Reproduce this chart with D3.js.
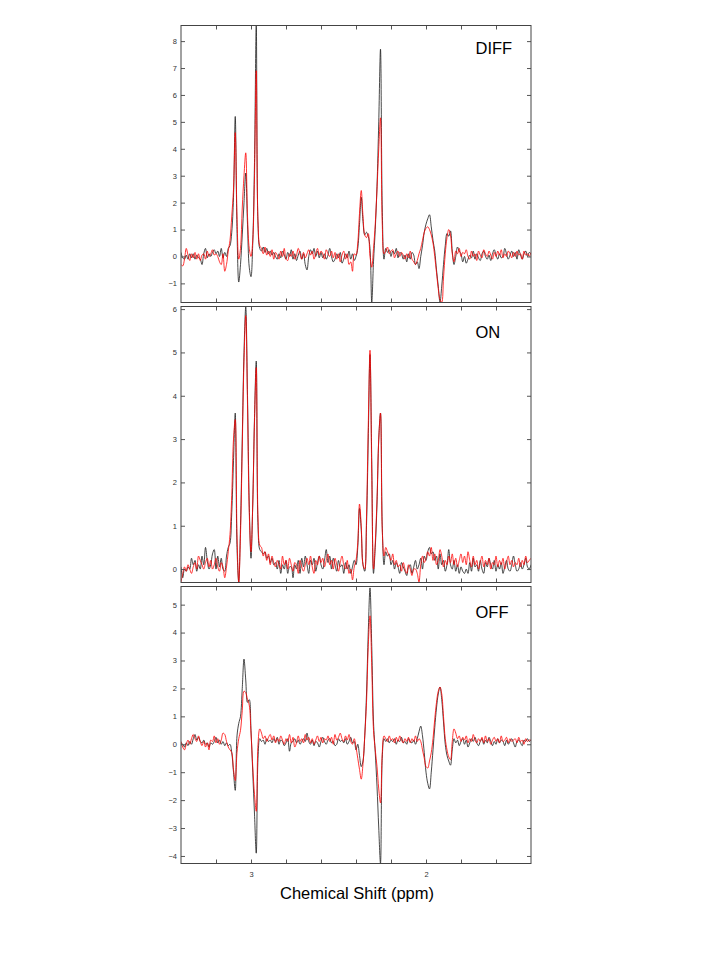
<!DOCTYPE html>
<html><head><meta charset="utf-8">
<script src="https://cdn.jsdelivr.net/npm/d3@7"></script>
<style>body{margin:0;background:#fff}svg{display:block}</style>
</head><body>
<svg id="chart" width="720" height="960"></svg>
<script>
// sampling grid: 3.40 ppm down to 1.40 ppm, 0.01 ppm step
const ppmGrid = d3.range(201).map(i => +(3.4 - 0.01 * i).toFixed(2));
const xTickValues = [3.2, 3.0, 2.8, 2.6, 2.4, 2.2, 2.0, 1.8, 1.6];
const xTickLabels = {"3": "3", "2": "2"};
const panelNames = ["DIFF", "ON", "OFF"];

const diffBlack = [
0.15,-0.05,-0.1,0.05,-0.1,0.1,-0.05,0.1,-0.1,0.05,
-0.05,-0.1,-0.3,0.1,0.3,-0.05,0.1,0.0,0.15,0.25,
0.1,0.2,0.0,0.3,-0.05,0.15,0.0,0.3,0.4,0.9,
2.2,5.2,1.0,-0.95,-0.3,0.8,2.0,3.1,1.2,-0.4,
-0.75,0.5,3.5,8.57,1.2,0.3,0.2,0.35,0.15,0.3,
0.1,0.2,0.05,0.15,0.0,-0.1,0.1,-0.05,0.2,0.05,
-0.1,0.15,0.0,0.25,-0.1,0.1,-0.15,0.05,0.2,-0.1,
0.1,-0.3,-0.5,0.0,0.25,0.1,0.3,0.0,0.2,-0.05,
0.15,-0.05,0.1,-0.1,0.05,0.3,0.0,-0.2,-0.1,0.1,
-0.05,0.15,-0.25,-0.1,0.1,-0.05,0.2,-0.1,0.1,-0.15,
0.0,0.3,1.2,2.2,1.3,0.8,0.9,0.75,0.3,-1.7,
-0.2,1.0,2.6,5.0,7.7,1.8,-0.1,0.3,0.15,0.25,
0.0,0.2,0.1,0.3,-0.05,0.15,0.1,-0.1,0.05,-0.2,
0.1,-0.1,0.15,0.05,-0.3,-0.2,-0.45,0.0,0.4,0.9,
1.2,1.4,1.55,1.1,0.6,0.2,-0.5,-1.1,-1.7,-1.1,
-0.3,0.4,0.85,0.75,0.95,0.2,-0.3,0.0,0.35,0.2,
0.1,-0.2,0.0,-0.25,-0.1,0.05,-0.05,0.2,-0.1,0.1,
-0.05,-0.15,0.1,0.2,0.0,-0.1,0.05,-0.15,0.1,0.25,
0.05,-0.1,0.1,-0.05,0.0,0.3,0.1,-0.1,0.05,0.2,
0.0,0.15,-0.1,0.25,0.05,-0.1,0.1,0.2,0.0,0.15,0.1];

const diffRed = [
-0.3,-0.35,-0.1,0.3,0.05,-0.15,0.1,-0.05,0.15,-0.1,
0.1,-0.15,0.05,0.1,-0.1,0.2,0.0,0.1,0.25,0.05,
0.1,0.0,-0.2,-0.3,0.1,-0.55,-0.3,0.2,0.6,1.5,
2.5,4.6,1.5,-0.1,0.3,1.8,3.0,3.85,1.5,0.3,
0.0,0.6,3.0,6.9,1.3,0.4,0.3,0.1,0.35,0.05,
0.2,0.0,0.25,-0.1,0.15,0.05,-0.1,0.2,0.0,0.3,
-0.1,-0.15,0.1,0.0,0.2,-0.1,0.05,0.3,0.1,-0.1,
0.15,-0.05,0.1,0.25,0.05,0.2,-0.1,0.1,0.3,0.05,
0.2,0.1,-0.1,0.25,0.1,0.0,0.2,-0.05,0.15,-0.1,
0.1,-0.2,0.05,0.2,-0.1,0.1,-0.3,-0.2,-0.55,0.1,
0.05,0.5,1.6,2.45,1.5,0.8,0.7,0.85,0.0,-0.4,
0.3,1.2,2.5,4.0,5.15,1.2,0.1,0.2,0.35,0.1,
0.2,0.25,-0.05,0.1,0.2,0.0,0.15,0.05,-0.1,0.1,
-0.05,0.2,-0.1,-0.2,-0.3,-0.15,0.1,0.3,0.6,0.9,
1.05,1.1,1.0,0.8,0.5,0.0,-0.6,-1.2,-1.6,-1.7,
-0.8,0.1,0.7,1.0,0.8,0.1,-0.2,0.2,0.1,0.3,
0.0,0.15,0.1,0.25,0.0,-0.1,0.2,0.0,0.1,-0.15,
0.2,0.05,-0.05,0.25,0.1,0.0,0.2,0.05,-0.1,0.15,
0.0,0.2,0.05,0.25,-0.05,0.1,0.0,0.2,0.1,-0.05,
0.15,0.0,0.2,0.05,0.1,-0.1,0.2,0.05,0.1,0.0,0.15];

const onBlack = [
0.05,-0.2,0.0,-0.05,0.05,0.0,0.25,0.1,0.2,-0.05,
0.1,0.0,0.3,0.1,0.5,0.2,0.0,0.1,0.35,0.45,
0.0,0.3,0.05,0.25,0.0,-0.05,0.3,0.5,0.6,1.3,
2.5,3.6,0.5,-0.3,1.0,3.0,5.0,6.05,4.0,1.5,
0.25,1.5,3.5,4.8,1.0,0.45,0.4,0.35,0.4,0.25,
0.3,0.15,0.25,0.1,0.15,0.0,0.2,-0.1,0.1,0.0,
0.2,-0.1,0.05,0.05,-0.2,0.1,0.0,0.2,-0.1,0.25,
0.05,0.3,0.1,-0.1,0.2,0.1,0.25,-0.05,0.15,0.3,
0.1,0.0,0.2,0.45,0.15,0.3,0.0,0.25,0.1,-0.05,
0.2,0.05,0.1,-0.1,0.15,0.0,0.1,-0.1,0.05,0.2,
0.1,0.5,1.4,0.9,0.1,-0.05,1.0,3.0,4.95,2.5,
-0.1,0.5,1.5,3.0,3.6,1.0,0.1,0.4,0.3,0.35,
0.1,0.2,0.0,0.15,0.05,-0.1,0.15,0.05,-0.05,-0.15,
0.05,0.1,-0.1,0.05,0.2,0.0,0.1,0.25,0.0,0.3,
0.2,0.4,0.5,0.35,0.4,0.2,0.3,0.0,0.35,0.1,
0.2,-0.05,0.1,0.45,0.1,0.0,0.2,-0.05,0.1,-0.1,
0.05,-0.05,-0.1,0.0,-0.1,0.15,-0.05,0.25,0.05,0.1,
-0.05,0.2,0.0,-0.1,0.15,0.05,0.25,0.1,0.0,0.2,
-0.05,0.1,0.0,0.15,-0.1,0.05,0.2,0.0,-0.05,0.1,
0.3,0.1,-0.05,0.0,0.15,0.0,0.1,0.25,0.05,0.0,0.1];

const onRed = [
-0.3,-0.1,0.05,-0.05,0.1,0.0,-0.1,0.05,0.15,0.0,
0.3,0.2,0.1,0.0,0.15,0.25,0.05,0.2,0.0,0.1,
0.25,0.05,-0.05,0.15,0.05,-0.2,0.05,0.4,0.8,1.7,
3.0,3.45,0.8,-0.3,0.8,2.8,4.8,5.85,3.8,1.3,
0.4,1.5,3.4,4.65,1.2,0.55,0.5,0.3,0.4,0.2,
0.35,0.1,0.3,0.15,0.05,0.2,0.1,0.0,0.3,0.1,
0.2,0.0,0.25,0.1,-0.05,0.15,0.1,-0.1,0.2,0.05,
-0.05,0.1,0.25,0.1,0.3,0.05,-0.1,0.2,0.1,0.3,
0.15,0.25,0.05,0.2,0.35,0.1,0.2,0.0,0.25,0.1,
-0.05,0.15,0.3,0.1,0.0,0.2,-0.1,0.0,-0.25,0.05,
0.2,0.6,1.5,1.0,0.1,0.0,1.2,3.3,5.05,2.2,
0.0,0.6,1.6,3.0,3.6,0.9,0.3,0.5,0.4,0.3,
0.2,0.35,0.1,0.2,0.05,0.1,-0.05,0.15,0.0,-0.1,
0.1,0.0,-0.15,0.0,0.0,-0.1,-0.3,0.1,0.3,0.15,
0.25,0.4,0.3,0.5,0.2,0.35,0.1,0.2,0.45,0.3,
0.05,0.2,0.1,0.3,0.15,0.35,0.1,0.25,0.05,0.2,
0.35,0.15,0.3,0.1,0.4,0.2,0.05,0.3,0.1,0.2,
0.0,0.15,0.3,0.05,0.2,0.1,0.25,0.0,0.15,0.1,
0.3,0.05,0.2,0.1,0.25,0.0,0.15,0.3,0.1,0.2,
0.05,0.15,0.1,0.25,0.05,0.2,0.1,0.3,0.15,0.2,0.25];

const offBlack = [
0.05,0.0,-0.1,0.05,-0.05,0.1,0.0,0.2,0.35,0.15,
0.25,0.1,0.05,0.15,0.0,0.05,-0.1,0.05,0.0,0.1,
0.25,0.05,0.15,0.0,0.1,-0.05,0.05,-0.05,0.0,-0.3,
-1.0,-1.65,0.3,0.75,1.0,2.0,3.05,2.3,1.5,1.6,
0.5,-1.0,-2.5,-3.9,-0.5,0.2,0.1,0.15,0.0,0.2,
0.1,0.15,0.05,0.2,0.1,0.25,0.0,0.15,0.1,-0.05,
0.05,0.2,-0.25,0.05,0.1,0.2,0.05,0.15,0.0,0.1,
0.2,0.1,0.4,0.1,0.0,0.15,-0.05,0.1,0.05,-0.1,
0.1,0.25,0.1,0.0,0.15,0.2,0.05,0.1,-0.05,0.0,
0.2,0.1,0.15,0.05,0.2,0.0,0.1,0.25,0.05,0.1,
-0.2,0.0,-0.4,-0.8,-0.6,0.3,1.8,4.0,5.6,3.5,
0.8,-0.3,-1.5,-3.0,-4.27,-0.5,0.2,0.1,0.2,0.05,
0.15,0.1,0.2,0.0,0.15,0.1,0.25,0.05,0.1,0.0,
0.2,0.1,0.05,0.15,0.0,0.2,0.45,0.65,0.3,-0.3,
-1.0,-1.4,-1.6,-1.0,-0.2,0.6,1.3,1.8,2.05,1.6,
0.8,0.0,-0.4,-0.6,-0.75,-0.2,0.2,0.05,0.15,-0.05,
0.1,0.2,0.0,0.15,-0.1,0.05,0.2,0.1,0.25,0.05,
-0.05,0.1,0.2,0.0,0.15,0.05,0.25,0.1,-0.05,0.1,
0.0,0.2,0.05,0.15,0.1,-0.05,0.15,0.0,0.1,0.2,
0.05,-0.1,0.1,0.15,0.05,-0.05,0.15,0.1,0.2,0.1,0.15];

const offRed = [
0.1,-0.1,-0.2,0.0,0.15,0.0,0.2,0.35,0.2,0.1,
0.3,0.1,-0.05,0.1,-0.1,0.05,-0.2,0.15,0.1,0.3,
0.05,0.2,0.0,0.15,0.4,0.35,0.1,-0.1,-0.2,-0.3,
-0.9,-1.3,-0.3,0.2,0.5,1.2,1.9,1.85,1.6,1.4,
0.4,-0.8,-1.8,-2.4,0.0,0.55,0.4,0.2,0.3,0.1,
0.25,0.35,0.15,0.3,0.05,0.2,0.1,0.3,0.15,0.0,
0.2,0.1,0.35,0.05,0.25,-0.1,0.05,0.3,0.1,0.2,
0.05,0.35,0.15,0.25,0.05,0.2,0.0,0.15,0.3,0.1,
0.25,0.05,0.2,0.15,0.3,0.1,0.25,0.0,0.35,0.15,
0.25,0.4,0.2,0.1,0.3,0.15,0.35,0.1,0.0,0.2,
-0.1,-0.5,-0.9,-1.25,-0.7,0.3,1.5,3.5,4.6,2.8,
0.5,-0.2,-0.8,-1.6,-2.1,-0.3,0.3,0.2,0.1,0.3,
0.15,0.2,0.05,0.25,0.1,0.3,0.15,0.05,0.2,0.1,
0.25,0.05,0.2,0.1,0.3,0.1,0.2,0.1,-0.2,-0.5,
-0.8,-0.85,-0.6,-0.3,0.2,0.9,1.5,1.9,2.05,1.8,
1.0,0.2,-0.2,-0.45,-0.55,0.1,0.55,0.4,0.2,0.3,
0.1,0.25,0.15,0.3,0.05,0.2,0.1,0.35,0.15,0.05,
0.2,0.1,0.25,0.05,0.3,0.1,0.2,0.0,0.15,0.25,
0.1,0.2,0.05,0.3,0.1,0.15,0.25,0.05,0.2,0.1,
0.15,0.2,0.05,0.25,0.1,0.15,0.0,0.2,0.1,0.15,0.15];

const yTicksDiff = [-1,0,1,2,3,4,5,6,7,8];
const yTicksOn = [0,1,2,3,4,5,6];
const yTicksOff = [-4,-3,-2,-1,0,1,2,3,4,5];
const yDomainDiff = [-1.71, 8.58];
const yDomainOn = [-0.31, 6.06];
const yDomainOff = [-4.27, 5.65];

// layout
const left = 181, right = 531;
const layout = [
  {top: 25.5, bottom: 302.5, labelY: 54},
  {top: 306.5, bottom: 582.5, labelY: 338},
  {top: 586.5, bottom: 863.5, labelY: 618}
];
const seriesSets = [
  {black: diffBlack, red: diffRed, domain: yDomainDiff, ticks: yTicksDiff},
  {black: onBlack, red: onRed, domain: yDomainOn, ticks: yTicksOn},
  {black: offBlack, red: offRed, domain: yDomainOff, ticks: yTicksOff}
];

const svg = d3.select("#chart");
const x = d3.scaleLinear().domain([3.4, 1.4]).range([left, right]);
const fmt = v => (v < 0 ? "\u2212" + Math.abs(v) : String(v));

seriesSets.forEach((s, k) => {
  const L = layout[k];
  const y = d3.scaleLinear().domain(s.domain).range([L.bottom, L.top]);
  const g = svg.append("g");
  const clipId = "clip" + k;
  svg.append("clipPath").attr("id", clipId).append("rect")
    .attr("x", left).attr("y", L.top).attr("width", right - left).attr("height", L.bottom - L.top);

  const line = d3.line().x((d, i) => x(ppmGrid[i])).y(d => y(d)).curve(d3.curveCatmullRom.alpha(0.5));
  const lines = g.append("g").attr("clip-path", `url(#${clipId})`);
  lines.append("path").datum(s.black).attr("d", line)
    .attr("fill", "none").attr("stroke", "#1a1a1a").attr("stroke-width", 0.8).attr("stroke-linejoin", "round");
  lines.append("path").datum(s.red).attr("d", line)
    .attr("fill", "none").attr("stroke", "#ff0000").attr("stroke-width", 0.8).attr("stroke-linejoin", "round");

  // axes
  const axisStyle = sel => {
    sel.select(".domain").remove();
    sel.selectAll("line").attr("stroke", "#555").attr("stroke-width", 1);
    sel.selectAll("text").attr("fill", "#333").style("font-family", "Liberation Sans, Arial, sans-serif").style("font-size", "7.5px");
  };
  g.append("g").attr("transform", `translate(0,${L.bottom})`)
    .call(d3.axisBottom(x).tickValues(xTickValues).tickSize(-4).tickSizeOuter(0).tickPadding(8)
      .tickFormat(v => (k === 2 ? (xTickLabels[String(v)] || "") : "")))
    .call(axisStyle);
  g.append("g").attr("transform", `translate(0,${L.top})`)
    .call(d3.axisTop(x).tickValues(xTickValues).tickSize(-4).tickSizeOuter(0).tickFormat(""))
    .call(axisStyle);
  g.append("g").attr("transform", `translate(${left},0)`)
    .call(d3.axisLeft(y).tickValues(s.ticks).tickSize(-4).tickSizeOuter(0).tickPadding(4).tickFormat(fmt))
    .call(axisStyle);
  g.append("g").attr("transform", `translate(${right},0)`)
    .call(d3.axisRight(y).tickValues(s.ticks).tickSize(-4).tickSizeOuter(0).tickFormat(""))
    .call(axisStyle);

  g.append("rect").attr("x", left).attr("y", L.top).attr("width", right - left).attr("height", L.bottom - L.top)
    .attr("fill", "none").attr("stroke", "#444").attr("stroke-width", 1);

  g.append("text").attr("x", 475.5).attr("y", L.labelY).text(panelNames[k])
    .attr("fill", "#000").style("font-family", "Liberation Sans, Arial, sans-serif").style("font-size", "16.5px");
});

svg.append("text").attr("x", 357).attr("y", 899).attr("text-anchor", "middle")
  .text("Chemical Shift (ppm)").attr("fill", "#000")
  .style("font-family", "Liberation Sans, Arial, sans-serif").style("font-size", "16.5px");
</script>
</body></html>
